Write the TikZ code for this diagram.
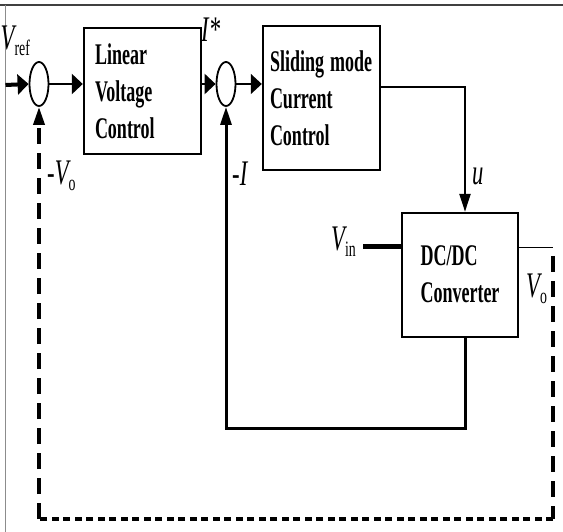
\documentclass[tikz,border=0pt]{standalone}
\usepackage{fontspec}
\setmainfont{Liberation Serif}
\usetikzlibrary{arrows.meta,shapes.geometric}
\newcommand{\sq}[1]{\scalebox{0.63}[1]{#1}}
\newcommand{\bq}[1]{\scalebox{0.6}[1]{#1}}
\newcommand{\lsub}[1]{\raisebox{-6pt}{\fontsize{22}{22}\selectfont\upshape #1}}
\tikzset{
  hA/.tip={Triangle[length=11pt,width=20pt]},
  vA/.tip={Triangle[length=18pt,width=11pt]},
  blk/.style={draw, line width=2.4pt, inner sep=0pt, align=left,
    font=\bfseries\fontsize{30}{37}\selectfont},
  sumnode/.style={draw, ellipse, line width=1.8pt, minimum width=19pt,
    minimum height=44pt, inner sep=0pt},
  lbl/.style={anchor=base west, inner sep=0pt,
    font=\itshape\fontsize{36}{36}\selectfont},
  dashA/.style={line width=3.5pt, dash pattern=on 16pt off 9pt},
  dashB/.style={line width=4pt, dash pattern=on 7pt off 4.5pt},
}
\begin{document}
\begin{tikzpicture}[x=1pt,y=-1pt]
\useasboundingbox (0,0) rectangle (563,532);
% frame
\draw[black!75, line width=2pt] (0,5) -- (563,5);
\draw[black!45, line width=1pt] (5.5,5) -- (5.5,532);
% blocks
\node[blk, minimum width=117pt, minimum height=126pt, text width=95pt, inner xsep=11pt] (lvc) at (142.5,91)
  {\bq{Linear}\\\bq{Voltage}\\\bq{Control}};
\node[blk, minimum width=117pt, minimum height=144pt, text width=103pt, inner xsep=7pt] (smc) at (321.5,98)
  {\bq{Sliding mode}\\\bq{Current}\\\bq{Control}};
\node[blk, minimum width=116pt, minimum height=124pt, text depth=2pt] (dc) at (460,275)
  {\bq{DC/DC}\\\bq{Converter}};
% summing junctions
\node[sumnode] (s1) at (39,84) {};
\node[sumnode] (s2) at (226,84) {};
% coordinates
\coordinate (inp) at (5.5,85);
\coordinate (c1) at (465,87);
\coordinate (c2) at (465,428);
\coordinate (c3) at (226,428);
\coordinate (vin) at (363,247);
\coordinate (vo) at (553,248);
\coordinate (d1) at (553,519);
\coordinate (d2) at (39,519);
% forward path
\draw[line width=4pt, -{hA}] (inp) -- (s1.west);
\draw[line width=2.5pt, -{hA}] (s1.east) -- (s1.east -| lvc.west);
\draw[line width=2.5pt, -{hA}] (s2.west -| lvc.east) -- (s2.west);
\draw[line width=1.5pt, -{hA}] (s2.east) -- (s2.east -| smc.west);
\draw[line width=2.2pt, -{vA}] (smc.east |- c1) -- (c1) -- (c1 |- dc.north);
\draw[line width=5pt] (vin) -- (vin -| dc.west);
% current feedback
\draw[line width=3pt, -{vA}] (dc.south -| c1) -- (c2) -- (c3) -- (s2.south);
% voltage feedback
\draw[line width=1pt] (vo -| dc.east) -- (vo);
\draw[dashA] (vo) ++(0,8) -- (d1);
\draw[dashB] (d1) -- (d2);
\draw[dashA, -{vA}] (d2) -- (s1.south);
% labels
\node[lbl] (lvref) at (0.5,50) {\sq{V\lsub{ref}}};
\node[lbl] (listar) at (201,42) {\sq{I*}};
\node[lbl] (lnvo) at (47,185) {\sq{-V\lsub{o}}};
\node[lbl] (lni) at (232,186) {\sq{-I}};
\node[lbl] (lu) at (472,185) {\sq{u}};
\node[lbl] (lvin) at (331,251) {\sq{V\lsub{in}}};
\node[lbl] (lvo) at (526,298) {\sq{V\lsub{o}}};
\end{tikzpicture}
\end{document}
